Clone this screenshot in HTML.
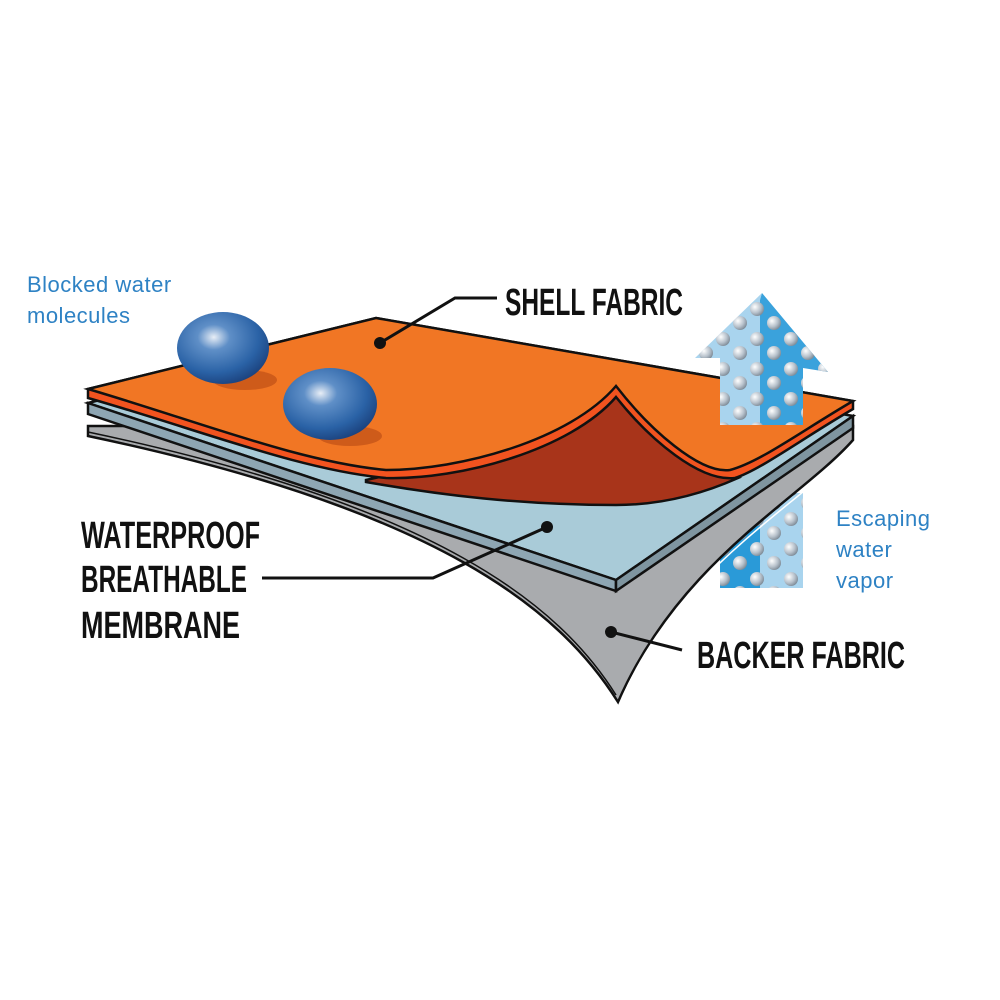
<!DOCTYPE html>
<html><head><meta charset="utf-8"><style>
html,body{margin:0;padding:0;background:#fff;}
svg{display:block}
.lbl{font-family:"Liberation Sans Narrow","Liberation Sans",sans-serif;font-weight:bold;fill:#111;}
.blue{font-family:"Liberation Sans",sans-serif;fill:#2e82c4;font-size:22px;letter-spacing:0.5px}
</style></head><body>
<svg width="1000" height="1000" viewBox="0 0 1000 1000" xmlns="http://www.w3.org/2000/svg">
<defs>
<radialGradient id="sph" cx="0.4" cy="0.35" r="0.7">
<stop offset="0" stop-color="#e8eef6"/><stop offset="0.25" stop-color="#5f8fc7"/><stop offset="0.7" stop-color="#2a62a6"/><stop offset="1" stop-color="#1a3f7a"/>
</radialGradient>
<radialGradient id="dot" cx="0.35" cy="0.35" r="0.7">
<stop offset="0" stop-color="#ffffff"/><stop offset="0.6" stop-color="#b8c2cc"/><stop offset="1" stop-color="#7d8a96"/>
</radialGradient>
<pattern id="dots" width="34" height="30" patternUnits="userSpaceOnUse">
<circle cx="9" cy="9" r="7" fill="url(#dot)"/><circle cx="26" cy="23" r="7" fill="url(#dot)"/>
</pattern>
</defs>

<polygon points="720,493 803,493 803,588 720,588" fill="#2a9ad8"/>
<polygon points="760,493 803,493 803,588 760,588" fill="#a9d4ee"/>
<rect x="720" y="493" width="83" height="95" fill="url(#dots)"/>

<path d="M88,426 L853,426 L853,440 C800,500 680,560 618,702 C560,610 440,510 88,436 Z" fill="#a9abae" stroke="#111" stroke-width="2.5"/>
<path d="M88,432 C440,506 560,606 616,695" fill="none" stroke="#111" stroke-width="1.5"/>
<path d="M853,446 C800,506 680,566 622,698" fill="none" stroke="#fff" stroke-width="1.5"/>
<polygon points="88,403 375,330 853,416 616,580" fill="#a9cbd8" stroke="#111" stroke-width="2.5"/>
<polygon points="88,403 616,580 616,591 88,414" fill="#8ea6b3" stroke="#111" stroke-width="2.5"/>
<polygon points="616,580 853,416 853,428 616,591" fill="#7f95a0" stroke="#111" stroke-width="2.5"/>
<path d="M366,480 C480,455 580,430 616,393 C650,430 690,470 738,478 C700,495 660,505 616,505 C520,505 440,495 366,482 Z" fill="#a8341a" stroke="#111" stroke-width="2.5"/>
<path d="M88,389 L376,318 L853,401 L853,409 C800,440 760,470 735,478 C700,482 650,440 616,397 C570,450 460,480 386,478 C300,470 200,430 88,398 Z" fill="#f2531f" stroke="#111" stroke-width="2.5"/>
<path d="M88,389 L376,318 L853,401 C800,432 760,462 730,470 C700,474 650,430 616,386 C570,440 460,470 386,470 C300,462 200,422 88,389 Z" fill="#f17624" stroke="#111" stroke-width="2.5"/>

<polygon points="762,293 695,358 720,358 720,425 760,425 760,300" fill="#a9d4ee"/>
<polygon points="762,293 828,372 803,368 803,425 760,425 760,300" fill="#3aa2dc"/>
<polygon points="762,293 695,358 720,358 720,425 803,425 803,368 828,372" fill="url(#dots)"/>

<ellipse cx="245" cy="380" rx="32" ry="10" fill="#b84a14" opacity="0.6"/>
<ellipse cx="223" cy="348" rx="46" ry="36" fill="url(#sph)"/>
<ellipse cx="350" cy="436" rx="32" ry="10" fill="#b84a14" opacity="0.6"/>
<ellipse cx="330" cy="404" rx="47" ry="36" fill="url(#sph)"/>

<polyline points="380,343 455,298 497,298" fill="none" stroke="#111" stroke-width="3"/>
<circle cx="380" cy="343" r="6" fill="#111"/>
<polyline points="547,527 433,578 262,578" fill="none" stroke="#111" stroke-width="3"/>
<circle cx="547" cy="527" r="6" fill="#111"/>
<line x1="611" y1="632" x2="682" y2="650" stroke="#111" stroke-width="3"/>
<circle cx="611" cy="632" r="6" fill="#111"/>

<text class="lbl" x="505" y="315" font-size="38" textLength="178" lengthAdjust="spacingAndGlyphs">SHELL FABRIC</text>
<text class="lbl" x="81" y="548" font-size="38" textLength="179" lengthAdjust="spacingAndGlyphs">WATERPROOF</text>
<text class="lbl" x="81" y="592" font-size="38" textLength="166" lengthAdjust="spacingAndGlyphs">BREATHABLE</text>
<text class="lbl" x="81" y="638" font-size="38" textLength="159" lengthAdjust="spacingAndGlyphs">MEMBRANE</text>
<text class="lbl" x="697" y="668" font-size="38" textLength="208" lengthAdjust="spacingAndGlyphs">BACKER FABRIC</text>

<text class="blue" x="27" y="292">Blocked water</text>
<text class="blue" x="27" y="323">molecules</text>
<text class="blue" x="836" y="526">Escaping</text>
<text class="blue" x="836" y="557">water</text>
<text class="blue" x="836" y="588">vapor</text>
</svg>
</body></html>
